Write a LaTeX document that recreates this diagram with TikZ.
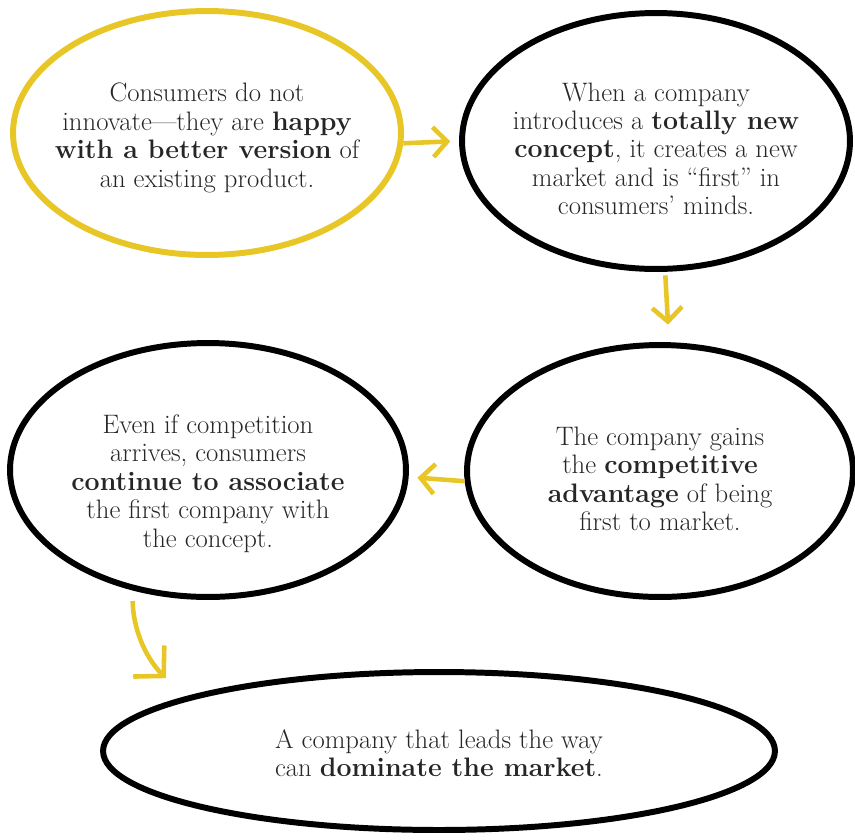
\documentclass[tikz,border=0pt]{standalone}
\usepackage{tikz}
\usetikzlibrary{shapes.geometric,arrows.meta,calc}
\definecolor{mustard}{RGB}{232,198,38}
\definecolor{inkgray}{RGB}{38,38,38}
\newcommand{\btext}[2][-7pt]{\smash{\raisebox{#1}{\makebox[0pt]{\begin{tabular}{@{}c@{}}#2\end{tabular}}}}}

\begin{document}
\begin{tikzpicture}[x=0.02cm, y=-0.02cm,
    bubble/.style={draw, ellipse, line width=3.4pt, inner sep=0pt, text=inkgray,
        font=\fontsize{15.2}{16.2}\selectfont},
    flow/.style={draw=mustard, line width=2.6pt, -{Straight Barb[length=8pt,width=17pt]}}]
    \useasboundingbox (0,0) rectangle (855,839);

    % Bubbles
    \node[bubble, draw=mustard, minimum width=7.76cm, minimum height=4.88cm] (consumers) at (207,133)
        {\btext{Consumers do not\\innovate---they are \textbf{happy}\\\textbf{with a better version} of\\an existing product.}};
    \node[bubble, minimum width=7.76cm, minimum height=5.12cm] (newconcept) at (656,141)
        {\btext[-10pt]{When a company\\introduces a \textbf{totally new}\\\textbf{concept}, it creates a new\\market and is “first” in\\consumers’ minds.}};
    \node[bubble, minimum width=7.72cm, minimum height=5.04cm] (gains) at (660,471)
        {\btext[-10pt]{The company gains\\the \textbf{competitive}\\\textbf{advantage} of being\\first to market.}};
    \node[bubble, minimum width=7.92cm, minimum height=5.08cm] (associate) at (208,470)
        {\btext[-12pt]{Even if competition\\arrives, consumers\\\textbf{continue to associate}\\the first company with\\the concept.}};
    \node[bubble, minimum width=13.44cm, minimum height=3.16cm] (dominate) at (439,751)
        {\btext{A company that leads the way\\can \textbf{dominate the market}.}};

    % Arrows
    \draw[flow, shorten >=5pt] (consumers.-3) -- (newconcept.west);
    \draw[flow, shorten <=2pt, shorten >=10pt] (newconcept.-86) -- (gains.86);
    \draw[flow, shorten >=5pt] (gains.183) -- (associate.-2);
    \draw[flow, shorten <=6pt, -{Straight Barb[length=12pt,width=25pt]}]
        (associate.238) .. controls +(0,35) and +(-22,-22) .. ([shift={(-46,-12)}]dominate.165);
\end{tikzpicture}
\end{document}
